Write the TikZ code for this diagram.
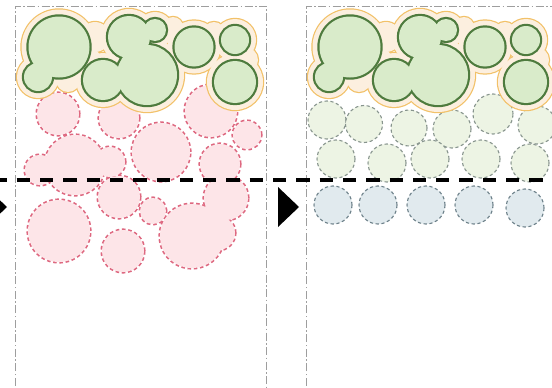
\documentclass[tikz,border=0pt]{standalone}
\definecolor{haloedge}{HTML}{F2C168}
\definecolor{halofill}{HTML}{FCEFDF}
\definecolor{leafedge}{HTML}{4E7B3E}
\definecolor{leaffill}{HTML}{D9EBCA}
\definecolor{pinkedge}{HTML}{DE6880}
\definecolor{pinkfill}{HTML}{FDE5E8}
\definecolor{sproutedge}{HTML}{87948D}
\definecolor{sproutfill}{HTML}{EDF4E4}
\definecolor{bluedge}{HTML}{6B7F88}
\definecolor{bluefill}{HTML}{E1EAEE}
\definecolor{framegray}{HTML}{9E9E9E}
\tikzset{
  framestyle/.style={framegray, line width=1pt,
    dash pattern=on 8pt off 2.5pt on 1.5pt off 2.5pt},
  haloring/.style={haloedge, line width=2.4pt},
  halobody/.style={halofill},
  leafring/.style={leafedge, line width=4.4pt},
  leafbody/.style={leaffill},
  pinkring/.style={pinkedge, line width=3.2pt, dash pattern=on 3.5pt off 2.6pt},
  pinkbody/.style={pinkfill},
  sproutcircle/.style={fill=sproutfill, draw=sproutedge, line width=1.1pt,
    dash pattern=on 3.2pt off 2.6pt},
  bluecircle/.style={fill=bluefill, draw=bluedge, line width=1.1pt,
    dash pattern=on 3.2pt off 2.6pt},
  cutline/.style={black, line width=3.4pt, dash pattern=on 13.3pt off 10pt,
    dash phase=6.6pt},
}
% the crown cluster with its soft halo, shifted sideways by #1
\newcommand\drawcrowncluster[1]{%
  \begin{scope}[xshift=#1pt]
    \def\crownlist{59/47/30.5, 38/77/14, 129/37/21, 155/30/11, 147/75/30,
      103/80/20, 194/47/19.5, 235/40/14, 235/82/21}
    \def\halofillers{95/37/15, 173/27/10, 214/33/11, 68/80/12, 245/60/13,
      88/62/14}
    \foreach \cx/\cy/\r in \crownlist
      \draw[haloring] (\cx,\cy) circle[radius=\r pt+7pt];
    \foreach \cx/\cy/\r in \halofillers
      \draw[haloring] (\cx,\cy) circle[radius=\r pt];
    \foreach \cx/\cy/\r in \crownlist
      \fill[halobody] (\cx,\cy) circle[radius=\r pt+7pt];
    \foreach \cx/\cy/\r in \halofillers
      \fill[halobody] (\cx,\cy) circle[radius=\r pt];
    \foreach \cx/\cy/\r in \crownlist
      \draw[leafring] (\cx,\cy) circle[radius=\r pt];
    \foreach \cx/\cy/\r in \crownlist
      \fill[leafbody] (\cx,\cy) circle[radius=\r pt];
  \end{scope}}
\begin{document}
\begin{tikzpicture}[x=1pt, y=-1pt]
  \useasboundingbox (0,0) rectangle (552,388);
  \clip (0,0) rectangle (552,388);
  \fill[white] (0,0) rectangle (552,388);

  % panel frames
  \draw[framestyle] (15,400) -- (15,6) -- (266,6) -- (266,400);
  \draw[framestyle] (306,400) -- (306,6) -- (570,6);

  % left panel: merged pink blobs
  \def\pinklist{58/114/21, 119/118/20, 161/152/29, 211/111/26, 247/135/14,
    40/170/15, 75/165/30, 110/162/15, 220/164/20, 119/197/21, 153/211/13,
    192/236/32, 226/198/22, 218/233/17, 59/231/31, 123/251/21}
  \foreach \cx/\cy/\r in \pinklist
    \draw[pinkring] (\cx,\cy) circle[radius=\r pt];
  \foreach \cx/\cy/\r in \pinklist
    \fill[pinkbody] (\cx,\cy) circle[radius=\r pt];

  % right panel: rows of light green and blue circles
  \foreach \cx/\cy/\r in {327/120/19, 364/124/18.5, 409/128/18, 452/129/19,
      493/114/20, 537/125/19, 336/159/19, 387/163/19, 430/159/19,
      481/159/19, 530/163/19}
    \path[sproutcircle] (\cx,\cy) circle[radius=\r pt];
  \foreach \cx/\cy in {333/205, 378/205, 426/205, 474/205, 525/208}
    \path[bluecircle] (\cx,\cy) circle[radius=19pt];

  % crown clusters
  \drawcrowncluster{0}
  \drawcrowncluster{291}

  % cut line and markers
  \coordinate (cutL) at (0,180);
  \coordinate (cutR) at (552,180);
  \draw[cutline] (cutL) -- (cutR);
  \fill[black] (-14,187) -- (7,207) -- (-14,227) -- cycle;
  \fill[black] (278,187) -- (299,207) -- (278,227) -- cycle;
\end{tikzpicture}
\end{document}
